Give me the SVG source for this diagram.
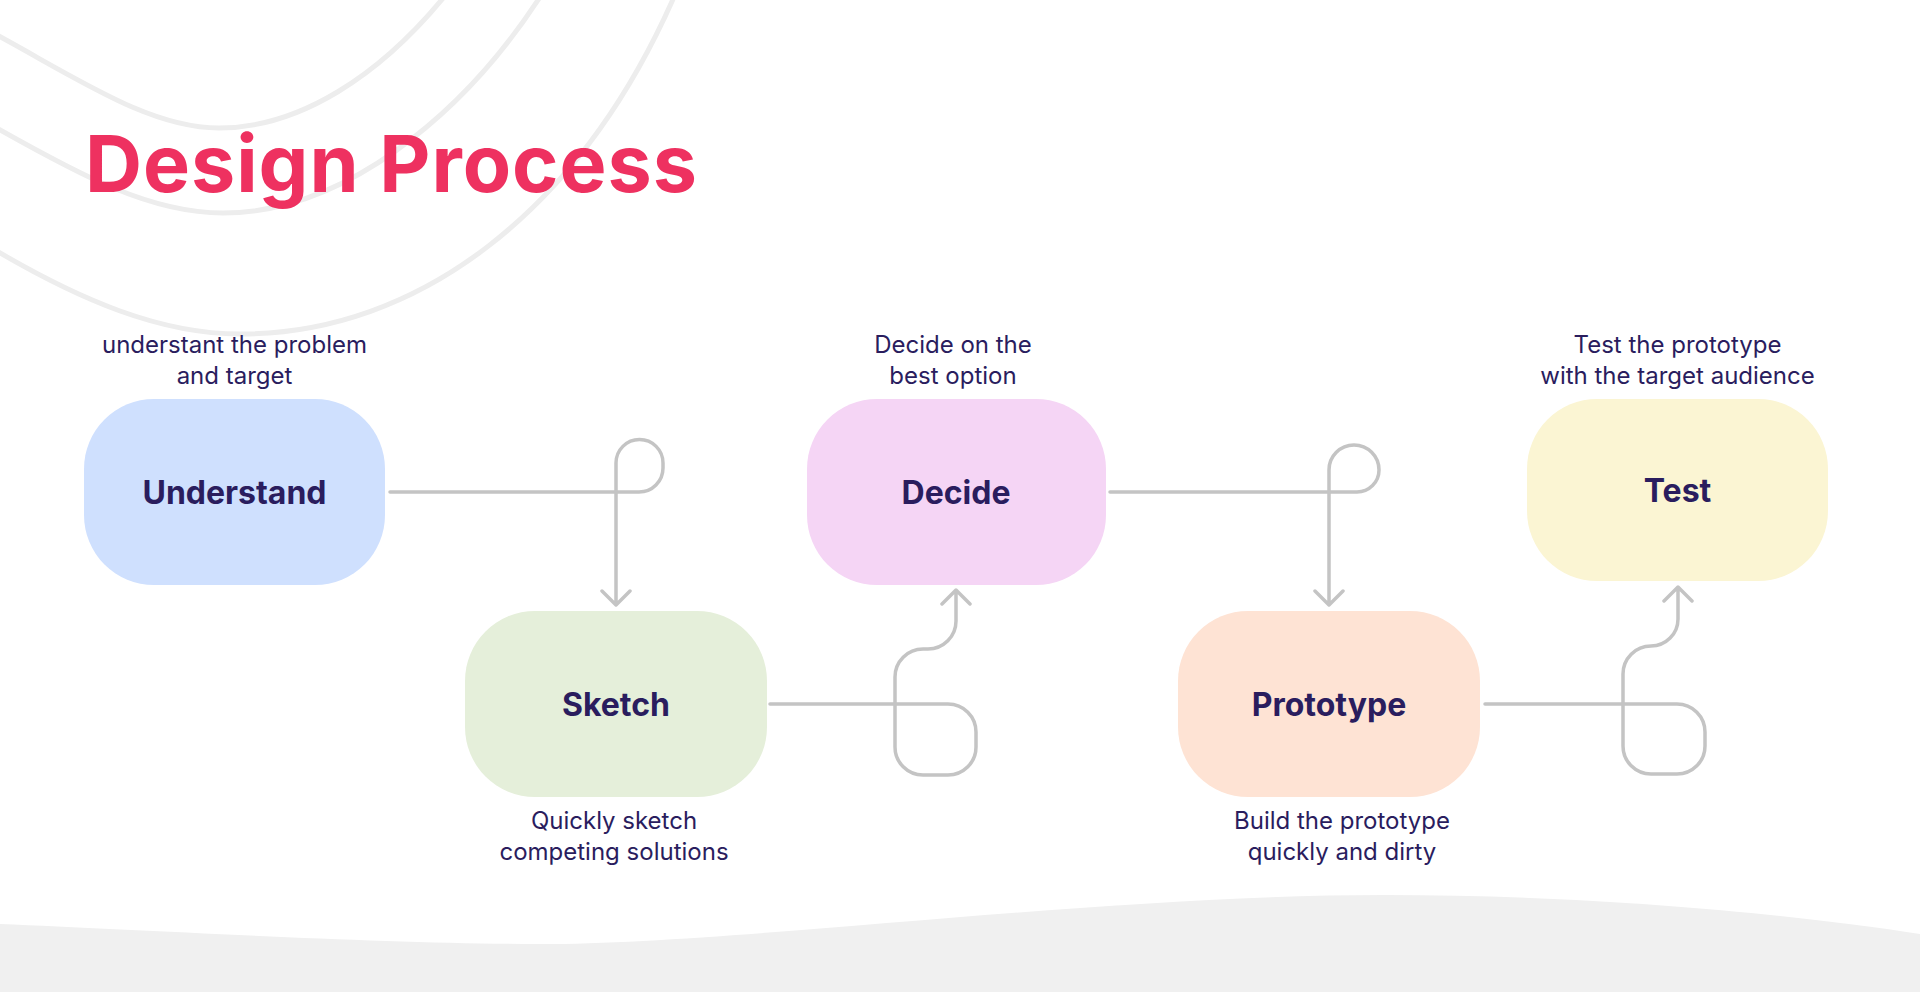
<svg xmlns="http://www.w3.org/2000/svg" width="1920" height="992" viewBox="0 0 1920 992">
<style>
.bg{fill:none;stroke:#EDEDED;stroke-width:5}
.node-label{font-family:Inter,"Liberation Sans",sans-serif;font-weight:700;font-size:32px;fill:#2A1D5E;text-anchor:middle}
.desc{font-family:Inter,"Liberation Sans",sans-serif;font-weight:400;font-size:24px;fill:#2A1D5E;text-anchor:middle}
.title{font-family:Inter,"Liberation Sans",sans-serif;font-weight:700;font-size:79px;fill:#EE3160}
.conn{fill:none;stroke:#C4C4C4;stroke-width:3.5;stroke-linecap:round;stroke-linejoin:round}
</style>
<rect width="1920" height="992" fill="#FFFFFF"/>
<g id="background">
<path class="bg" d="M-5,34 C80,80 150,128 219,128 C300,128 380,75 444,-3"/>
<path class="bg" d="M-5,127 C80,175 150,213 223,213 C340,213 460,120 540,-3"/>
<path class="bg" d="M-5,250 C80,300 160,334 240,334 C420,334 580,210 674,-3"/>
<path d="M0,924 C150,930 380,944 540,944 C740,944 1100,895 1384,895 C1600,895 1800,915 1920,934 V992 H0 Z" fill="#F0F0F0"/>
</g>
<text id="title" class="title" x="85" y="192" textLength="612" lengthAdjust="spacing">Design Process</text>
<g id="connectors">
<path class="conn" d="M390,492 H639 A24,24 0 0 0 663,468 V463 A23.5,23.5 0 0 0 616,463 V605 M602,591 L616,605 L630,591"/>
<path class="conn" d="M770,704 H948 A28,28 0 0 1 976,732 V747 A28,28 0 0 1 948,775 H923 A28,28 0 0 1 895,747 V677 A28,28 0 0 1 923,649 H928 A28,28 0 0 0 956,621 V590 M942,604 L956,590 L970,604"/>
<path class="conn" d="M1110,492 H1357 A22,22 0 0 0 1379,470 A25,25 0 0 0 1329,470 V605 M1315,591 L1329,605 L1343,591"/>
<path class="conn" d="M1485,704 H1677 A28,28 0 0 1 1705,732 V746 A28,28 0 0 1 1677,774 H1651 A28,28 0 0 1 1623,746 V674 A28,28 0 0 1 1651,646 A27,27 0 0 0 1678,619 V587 M1664,601 L1678,587 L1692,601"/>
</g>
<g id="node-understand">
<text class="desc" x="234.5" y="353">understant the problem</text>
<text class="desc" x="234.5" y="384">and target</text>
<rect x="84" y="399" width="301" height="186" rx="70" fill="#CFE0FE"/>
<text class="node-label" x="234.5" y="504">Understand</text>
</g>
<g id="node-sketch">
<rect x="465" y="611" width="302" height="186" rx="70" fill="#E5EFDA"/>
<text class="node-label" x="616" y="716">Sketch</text>
<text class="desc" x="614" y="829">Quickly sketch</text>
<text class="desc" x="614" y="860">competing solutions</text>
</g>
<g id="node-decide">
<text class="desc" x="953" y="353">Decide on the</text>
<text class="desc" x="953" y="384">best option</text>
<rect x="807" y="399" width="299" height="186" rx="70" fill="#F5D5F5"/>
<text class="node-label" x="956" y="504">Decide</text>
</g>
<g id="node-prototype">
<rect x="1178" y="611" width="302" height="186" rx="70" fill="#FEE3D4"/>
<text class="node-label" x="1329" y="716">Prototype</text>
<text class="desc" x="1342" y="829">Build the prototype</text>
<text class="desc" x="1342" y="860">quickly and dirty</text>
</g>
<g id="node-test">
<text class="desc" x="1677.5" y="353">Test the prototype</text>
<text class="desc" x="1677.5" y="384">with the target audience</text>
<rect x="1527" y="399" width="301" height="182" rx="70" fill="#FBF5D3"/>
<text class="node-label" x="1677.5" y="502">Test</text>
</g>
</svg>
